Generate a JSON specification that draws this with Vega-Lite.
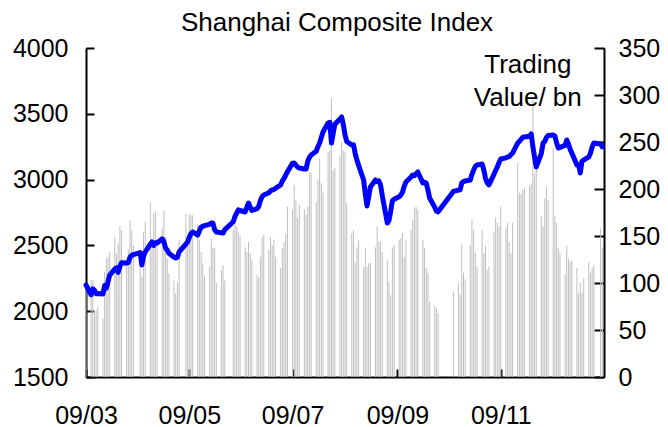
{
  "$schema": "https://vega.github.io/schema/vega-lite/v6.json",
  "width": 518,
  "height": 329,
  "autosize": {"type": "none"},
  "padding": {"left": 86, "top": 48, "right": 64, "bottom": 50},
  "background": "white",
  "title": {"text": "Shanghai Composite Index", "font": "Liberation Sans", "fontSize": 26, "fontWeight": "normal", "color": "black", "offset": 0, "dx": -8},
  "config": {
    "view": {"stroke": null},
    "axis": {"domainColor": "black", "domainWidth": 2, "tickColor": "black", "tickWidth": 2, "labelFont": "Liberation Sans", "labelFontSize": 25, "labelColor": "black", "grid": false, "title": null, "labelOverlap": false, "labelFlush": false, "labelBound": false}
  },
  "datasets": {
    "days": [
      {"d":"2009-03-01","idx":2199,"tv":100},{"d":"2009-03-04","idx":2125,"tv":103},{"d":"2009-03-05","idx":2170,"tv":103},{"d":"2009-03-06","idx":2160,"tv":71},{"d":"2009-03-07","idx":2132,"tv":71},{"d":"2009-03-08","idx":2135,"tv":75},
      {"d":"2009-03-11","idx":2130,"tv":62},{"d":"2009-03-12","idx":2195,"tv":112},{"d":"2009-03-13","idx":2175,"tv":126},{"d":"2009-03-14","idx":2225,"tv":128},{"d":"2009-03-15","idx":2275,"tv":133},
      {"d":"2009-03-18","idx":2320,"tv":149},{"d":"2009-03-19","idx":2330,"tv":131},{"d":"2009-03-20","idx":2295,"tv":142},{"d":"2009-03-21","idx":2340,"tv":161},{"d":"2009-03-22","idx":2368,"tv":156},
      {"d":"2009-03-25","idx":2366,"tv":120},{"d":"2009-03-26","idx":2370,"tv":135},{"d":"2009-03-27","idx":2410,"tv":167},{"d":"2009-03-28","idx":2425,"tv":156},{"d":"2009-03-29","idx":2430,"tv":140},
      {"d":"2009-04-02","idx":2445,"tv":128},{"d":"2009-04-03","idx":2352,"tv":107},{"d":"2009-04-04","idx":2420,"tv":154},{"d":"2009-04-05","idx":2450,"tv":165},
      {"d":"2009-04-08","idx":2510,"tv":186},{"d":"2009-04-09","idx":2526,"tv":145},{"d":"2009-04-10","idx":2500,"tv":174},{"d":"2009-04-11","idx":2520,"tv":176},{"d":"2009-04-12","idx":2518,"tv":147},
      {"d":"2009-04-15","idx":2549,"tv":158},{"d":"2009-04-16","idx":2530,"tv":177},{"d":"2009-04-17","idx":2480,"tv":149},{"d":"2009-04-18","idx":2465,"tv":126},{"d":"2009-04-19","idx":2440,"tv":110},
      {"d":"2009-04-22","idx":2410,"tv":103},{"d":"2009-04-23","idx":2404,"tv":89},{"d":"2009-04-24","idx":2410,"tv":100},{"d":"2009-04-25","idx":2450,"tv":145},
      {"d":"2009-04-29","idx":2510,"tv":174},{"d":"2009-04-30","idx":2526,"tv":150},{"d":"2009-05-01","idx":2560,"tv":174},{"d":"2009-05-02","idx":2590,"tv":172},{"d":"2009-05-03","idx":2602,"tv":172},
      {"d":"2009-05-06","idx":2579,"tv":163},{"d":"2009-05-07","idx":2610,"tv":146},{"d":"2009-05-08","idx":2640,"tv":133},{"d":"2009-05-09","idx":2645,"tv":121},{"d":"2009-05-10","idx":2650,"tv":107},
      {"d":"2009-05-13","idx":2660,"tv":117},{"d":"2009-05-14","idx":2670,"tv":147},{"d":"2009-05-15","idx":2668,"tv":138},{"d":"2009-05-16","idx":2620,"tv":137},{"d":"2009-05-17","idx":2602,"tv":100},
      {"d":"2009-05-20","idx":2596,"tv":114},{"d":"2009-05-21","idx":2594,"tv":119},{"d":"2009-05-22","idx":2620,"tv":103},
      {"d":"2009-05-27","idx":2680,"tv":156},{"d":"2009-05-28","idx":2720,"tv":162},{"d":"2009-05-29","idx":2745,"tv":160},{"d":"2009-05-30","idx":2770,"tv":154},{"d":"2009-05-31","idx":2765,"tv":150},
      {"d":"2009-06-03","idx":2754,"tv":138},{"d":"2009-06-04","idx":2790,"tv":133},{"d":"2009-06-05","idx":2822,"tv":144},{"d":"2009-06-06","idx":2790,"tv":132},{"d":"2009-06-07","idx":2765,"tv":124},
      {"d":"2009-06-10","idx":2780,"tv":109},{"d":"2009-06-11","idx":2795,"tv":106},{"d":"2009-06-12","idx":2840,"tv":128},{"d":"2009-06-13","idx":2870,"tv":148},{"d":"2009-06-14","idx":2883,"tv":151},
      {"d":"2009-06-17","idx":2900,"tv":135},{"d":"2009-06-18","idx":2915,"tv":149},{"d":"2009-06-19","idx":2921,"tv":140},{"d":"2009-06-20","idx":2925,"tv":146},{"d":"2009-06-21","idx":2935,"tv":128},
      {"d":"2009-06-24","idx":2960,"tv":116},{"d":"2009-06-25","idx":2990,"tv":137},{"d":"2009-06-26","idx":3010,"tv":144},{"d":"2009-06-27","idx":3035,"tv":153},{"d":"2009-06-28","idx":3060,"tv":181},
      {"d":"2009-07-01","idx":3125,"tv":178},{"d":"2009-07-02","idx":3126,"tv":204},{"d":"2009-07-03","idx":3110,"tv":188},{"d":"2009-07-04","idx":3095,"tv":170},{"d":"2009-07-05","idx":3088,"tv":183},
      {"d":"2009-07-08","idx":3081,"tv":178},{"d":"2009-07-09","idx":3080,"tv":172},{"d":"2009-07-10","idx":3140,"tv":181},{"d":"2009-07-11","idx":3170,"tv":218},{"d":"2009-07-12","idx":3187,"tv":217},
      {"d":"2009-07-15","idx":3215,"tv":186},{"d":"2009-07-16","idx":3250,"tv":210},{"d":"2009-07-17","idx":3278,"tv":233},{"d":"2009-07-18","idx":3320,"tv":206},{"d":"2009-07-19","idx":3362,"tv":196},
      {"d":"2009-07-22","idx":3430,"tv":239},{"d":"2009-07-23","idx":3435,"tv":241},{"d":"2009-07-24","idx":3278,"tv":297},{"d":"2009-07-25","idx":3350,"tv":220},{"d":"2009-07-26","idx":3420,"tv":223},
      {"d":"2009-07-29","idx":3460,"tv":236},{"d":"2009-07-30","idx":3476,"tv":250},{"d":"2009-07-31","idx":3420,"tv":241},{"d":"2009-08-01","idx":3340,"tv":239},{"d":"2009-08-02","idx":3290,"tv":185},
      {"d":"2009-08-05","idx":3263,"tv":153},{"d":"2009-08-06","idx":3265,"tv":156},{"d":"2009-08-07","idx":3200,"tv":122},{"d":"2009-08-08","idx":3150,"tv":138},{"d":"2009-08-09","idx":3110,"tv":146},
      {"d":"2009-08-12","idx":2997,"tv":117},{"d":"2009-08-13","idx":2890,"tv":137},{"d":"2009-08-14","idx":2800,"tv":117},{"d":"2009-08-15","idx":2870,"tv":121},{"d":"2009-08-16","idx":2944,"tv":121},
      {"d":"2009-08-19","idx":2997,"tv":138},{"d":"2009-08-20","idx":2985,"tv":160},{"d":"2009-08-21","idx":2990,"tv":144},{"d":"2009-08-22","idx":2960,"tv":144},{"d":"2009-08-23","idx":2880,"tv":133},
      {"d":"2009-08-26","idx":2670,"tv":124},{"d":"2009-08-27","idx":2690,"tv":101},{"d":"2009-08-28","idx":2760,"tv":87},{"d":"2009-08-29","idx":2840,"tv":138},{"d":"2009-08-30","idx":2850,"tv":141},
      {"d":"2009-09-02","idx":2870,"tv":146},{"d":"2009-09-03","idx":2883,"tv":148},{"d":"2009-09-04","idx":2906,"tv":153},{"d":"2009-09-05","idx":2950,"tv":127},{"d":"2009-09-06","idx":2982,"tv":146},
      {"d":"2009-09-09","idx":3020,"tv":156},{"d":"2009-09-10","idx":3035,"tv":167},{"d":"2009-09-11","idx":3030,"tv":180},{"d":"2009-09-12","idx":3045,"tv":181},{"d":"2009-09-13","idx":3058,"tv":178},
      {"d":"2009-09-16","idx":2975,"tv":146},{"d":"2009-09-17","idx":2980,"tv":137},{"d":"2009-09-18","idx":2974,"tv":116},{"d":"2009-09-19","idx":2920,"tv":111},{"d":"2009-09-20","idx":2860,"tv":80},
      {"d":"2009-09-23","idx":2790,"tv":76},{"d":"2009-09-24","idx":2760,"tv":73},{"d":"2009-09-25","idx":2755,"tv":68},
      {"d":"2009-10-04","idx":2910,"tv":91},{"d":"2009-10-07","idx":2920,"tv":100},{"d":"2009-10-08","idx":2921,"tv":88},{"d":"2009-10-09","idx":2975,"tv":141},{"d":"2009-10-10","idx":2985,"tv":111},{"d":"2009-10-11","idx":2990,"tv":104},
      {"d":"2009-10-14","idx":2997,"tv":140},{"d":"2009-10-15","idx":3040,"tv":167},{"d":"2009-10-16","idx":3073,"tv":156},{"d":"2009-10-17","idx":3100,"tv":132},{"d":"2009-10-18","idx":3111,"tv":117},
      {"d":"2009-10-21","idx":3119,"tv":156},{"d":"2009-10-22","idx":3073,"tv":132},{"d":"2009-10-23","idx":3010,"tv":139},{"d":"2009-10-24","idx":2975,"tv":114},{"d":"2009-10-25","idx":2960,"tv":117},
      {"d":"2009-10-28","idx":3040,"tv":154},{"d":"2009-10-29","idx":3070,"tv":170},{"d":"2009-10-30","idx":3096,"tv":164},{"d":"2009-10-31","idx":3130,"tv":160},{"d":"2009-11-01","idx":3157,"tv":181},
      {"d":"2009-11-04","idx":3165,"tv":158},{"d":"2009-11-05","idx":3172,"tv":164},{"d":"2009-11-06","idx":3175,"tv":144},{"d":"2009-11-07","idx":3190,"tv":132},{"d":"2009-11-08","idx":3202,"tv":164},
      {"d":"2009-11-11","idx":3278,"tv":228},{"d":"2009-11-12","idx":3290,"tv":196},{"d":"2009-11-13","idx":3305,"tv":195},{"d":"2009-11-14","idx":3320,"tv":199},{"d":"2009-11-15","idx":3324,"tv":201},
      {"d":"2009-11-18","idx":3330,"tv":203},{"d":"2009-11-19","idx":3347,"tv":206},{"d":"2009-11-20","idx":3248,"tv":295},{"d":"2009-11-21","idx":3170,"tv":217},{"d":"2009-11-22","idx":3096,"tv":223},
      {"d":"2009-11-25","idx":3200,"tv":171},{"d":"2009-11-26","idx":3278,"tv":160},{"d":"2009-11-27","idx":3290,"tv":190},{"d":"2009-11-28","idx":3320,"tv":202},{"d":"2009-11-29","idx":3335,"tv":188},
      {"d":"2009-12-02","idx":3339,"tv":244},{"d":"2009-12-03","idx":3330,"tv":171},{"d":"2009-12-04","idx":3280,"tv":164},{"d":"2009-12-05","idx":3240,"tv":137},{"d":"2009-12-06","idx":3245,"tv":132},
      {"d":"2009-12-09","idx":3260,"tv":109},{"d":"2009-12-10","idx":3301,"tv":139},{"d":"2009-12-11","idx":3270,"tv":126},{"d":"2009-12-12","idx":3230,"tv":122},{"d":"2009-12-13","idx":3202,"tv":124},
      {"d":"2009-12-16","idx":3111,"tv":116},{"d":"2009-12-17","idx":3112,"tv":89},{"d":"2009-12-18","idx":3050,"tv":100},{"d":"2009-12-19","idx":3140,"tv":90},{"d":"2009-12-20","idx":3149,"tv":105},
      {"d":"2009-12-23","idx":3172,"tv":122},{"d":"2009-12-24","idx":3200,"tv":111},{"d":"2009-12-25","idx":3248,"tv":116},{"d":"2009-12-26","idx":3278,"tv":119},
      {"d":"2009-12-30","idx":3270,"tv":158},{"d":"2009-12-31","idx":3248,"tv":138}
    ],
    "note": [{"d": "2009-11-17", "v": 332, "t": ["Trading", "Value/ bn"]}]
  },
  "layer": [
    {
      "data": {"name": "days"},
      "mark": {"type": "bar", "width": 1, "color": "#bfbfbf"},
      "encoding": {
        "x": {"field": "d", "type": "temporal",
              "scale": {"type": "utc", "padding": 0, "domain": [{"year": 2009, "month": 3, "date": 1, "utc": true}, {"year": 2010, "month": 1, "date": 1, "utc": true}]},
              "axis": {"orient": "bottom", "format": "%y/%m", "tickSize": -8, "labelPadding": 34,
                       "values": [{"year": 2009, "month": 3, "date": 1, "utc": true}, {"year": 2009, "month": 5, "date": 1, "utc": true}, {"year": 2009, "month": 7, "date": 1, "utc": true}, {"year": 2009, "month": 9, "date": 1, "utc": true}, {"year": 2009, "month": 11, "date": 1, "utc": true}]}},
        "y": {"field": "tv", "type": "quantitative", "scale": {"domain": [0, 350], "nice": false, "zero": true},
              "axis": {"orient": "right", "format": "d", "values": [0, 50, 100, 150, 200, 250, 300, 350], "tickSize": -10, "labelPadding": 24}}
      }
    },
    {
      "data": {"name": "note"},
      "mark": {"type": "text", "font": "Liberation Sans", "fontSize": 26, "lineHeight": 33, "align": "center", "baseline": "middle", "color": "black"},
      "encoding": {
        "x": {"field": "d", "type": "temporal", "scale": {"type": "utc", "padding": 0, "domain": [{"year": 2009, "month": 3, "date": 1, "utc": true}, {"year": 2010, "month": 1, "date": 1, "utc": true}]}},
        "y": {"field": "v", "type": "quantitative", "scale": {"domain": [0, 350], "nice": false}, "axis": null},
        "text": {"field": "t", "type": "nominal"}
      }
    },
    {
      "data": {"name": "days"},
      "mark": {"type": "line", "color": "#0000ff", "strokeWidth": 5, "strokeJoin": "round", "strokeCap": "round"},
      "encoding": {
        "x": {"field": "d", "type": "temporal", "scale": {"type": "utc", "padding": 0, "domain": [{"year": 2009, "month": 3, "date": 1, "utc": true}, {"year": 2010, "month": 1, "date": 1, "utc": true}]}},
        "y": {"field": "idx", "type": "quantitative", "scale": {"domain": [1500, 4000], "nice": false, "zero": false},
              "axis": {"orient": "left", "format": "d", "values": [1500, 2000, 2500, 3000, 3500, 4000], "tickSize": -8, "labelPadding": 26}}
      }
    }
  ],
  "resolve": {"scale": {"y": "independent"}, "axis": {"y": "independent"}}
}
